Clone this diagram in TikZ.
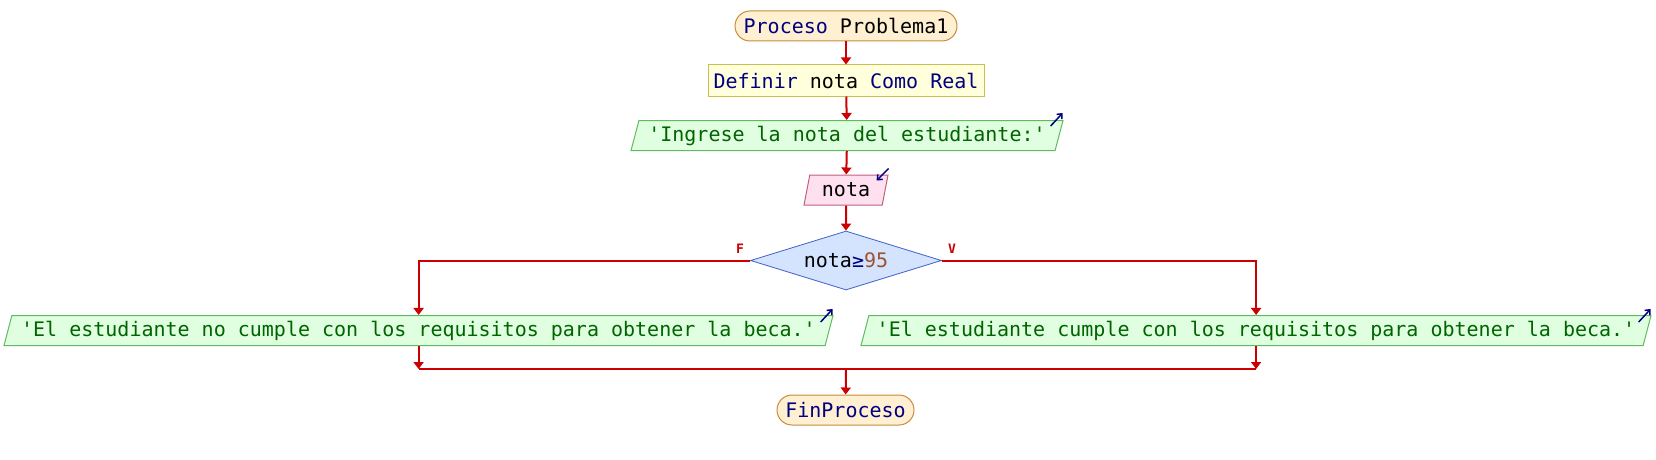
\documentclass[tikz,border=0pt]{standalone}
\usepackage{fontspec}
\setmainfont{DejaVu Sans Mono}[Ligatures=TeXOff]
\usepackage{xcolor}
\usepackage{tikz}
\usetikzlibrary{arrows.meta,positioning}
\usetikzlibrary{shapes.geometric}
\definecolor{FlowColor}{HTML}{CC0000}
\definecolor{KeywordColor}{HTML}{000080}
\definecolor{StringColor}{HTML}{006400}
\definecolor{NumberColor}{HTML}{A0522D}
\definecolor{TerminalFill}{HTML}{FFF0D2}
\definecolor{TerminalLine}{HTML}{C88C3C}
\definecolor{DefineFill}{HTML}{FFFFDC}
\definecolor{DefineLine}{HTML}{C8C050}
\definecolor{OutputFill}{HTML}{E0FFE0}
\definecolor{OutputLine}{HTML}{60BB60}
\definecolor{InputFill}{HTML}{FFE0EE}
\definecolor{InputLine}{HTML}{C06080}
\definecolor{DecisionFill}{HTML}{D4E4FF}
\definecolor{DecisionLine}{HTML}{4060C8}

\begin{document}
\begin{tikzpicture}[
      x=1pt, y=-1pt,
      font=\fontsize{20}{24}\selectfont,
      every node/.style={inner sep=0pt},
      terminal/.style={draw=TerminalLine, fill=TerminalFill, line width=1pt,
        rounded corners=15pt, minimum height=30pt},
      definebox/.style={draw=DefineLine, fill=DefineFill, line width=1pt,
        minimum height=31pt},
      iobox/.style={trapezium, trapezium left angle=68, trapezium right angle=112,
        trapezium stretches body, line width=1pt, minimum height=30pt},
      outbox/.style={iobox, draw=OutputLine, fill=OutputFill, text=StringColor},
      inbox/.style={iobox, draw=InputLine, fill=InputFill},
      decision/.style={diamond, aspect=3.24, draw=DecisionLine, fill=DecisionFill,
        line width=0.8pt, minimum width=191pt, minimum height=59pt},
      branchlabel/.style={text=FlowColor, font=\fontsize{13}{15}\selectfont\bfseries},
      line/.style={draw=FlowColor, line width=2pt},
      flow/.style={line, -{Triangle[width=10pt,length=7pt]}},
      iconarrow/.style={draw=KeywordColor, line width=1.5pt, -{Straight Barb[length=4pt,width=7pt]}},
  ]
  \useasboundingbox (0,0) rectangle (1656,460);
  % ┌────────┐
  % │ Nodes  │
  % └────────┘
  \node[terminal, minimum width=222pt] (start) at (846,26)
    {\textcolor{KeywordColor}{Proceso} Problema1};
  \node[definebox, minimum width=276pt] (def) at (846,80.5)
    {\textcolor{KeywordColor}{Definir} nota \textcolor{KeywordColor}{Como Real}};
  \node[outbox, minimum width=432pt] (msg) at (847,135.5)
    {'Ingrese la nota del estudiante:'};
  \node[inbox, minimum width=84pt] (leer) at (846,190) {nota};
  \node[decision] (cond) at (846,260.5)
    {nota\textcolor{KeywordColor}{≥}\textcolor{NumberColor}{95}};
  \node[outbox, minimum width=829pt] (outno) at (418.5,330.5)
    {'El estudiante no cumple con los requisitos para obtener la beca.'};
  \node[outbox, minimum width=790pt] (outsi) at (1256,330.5)
    {'El estudiante cumple con los requisitos para obtener la beca.'};
  \node[terminal, minimum width=137pt] (fin) at (845.5,410)
    {\textcolor{KeywordColor}{FinProceso}};
  \coordinate (merge) at (846,369);
  % ┌───────────────────┐
  % │ Verbindungslinien │
  % └───────────────────┘
  \draw[flow] (start) -- (def);
  \draw[flow] (def) -- (msg);
  \draw[flow] (msg) -- (leer);
  \draw[flow] (leer) -- (cond);
  \draw[flow] (cond.west) -| (outno.north);
  \draw[flow] (cond.east) -| (outsi.north);
  \node[branchlabel] (lblf) at (740,249) {F};
  \node[branchlabel] (lblv) at (952,249) {V};
  \draw[flow] (outno.south) -- (outno.south |- merge);
  \draw[flow] (outsi.south) -- (outsi.south |- merge);
  \draw[line] (outno.south |- merge) -- (outsi.south |- merge);
  \draw[flow] (merge) -- (fin);
  % Ein-/Ausgabe Symbole
  \draw[iconarrow] ([shift={(-13,6)}]msg.top right corner) -- ++(12,-13);
  \draw[iconarrow] ([shift={(0,-6)}]leer.top right corner) -- ++(-12,12);
  \draw[iconarrow] ([shift={(-13,7)}]outno.top right corner) -- ++(12,-13);
  \draw[iconarrow] ([shift={(-13,7)}]outsi.top right corner) -- ++(12,-13);
  \end{tikzpicture}
\end{document}
